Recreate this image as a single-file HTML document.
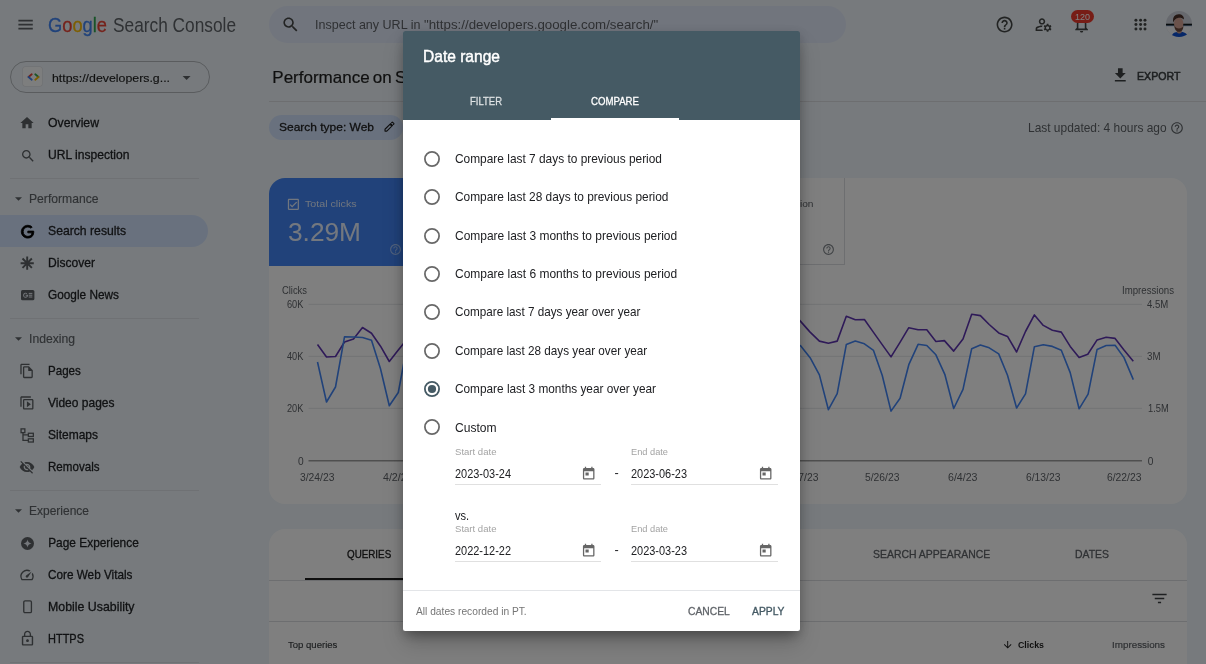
<!DOCTYPE html>
<html lang="en"><head><meta charset="utf-8"><title>Performance - Search Console</title>
<style>
html,body{margin:0;padding:0}
body{width:1206px;height:664px;overflow:hidden;position:relative;background:#eef5fa;font-family:"Liberation Sans", sans-serif;}
#app{position:absolute;left:0;top:0;width:1206px;height:664px;overflow:hidden;background:#eef5fa}
#scrim{position:absolute;left:0;top:0;width:1206px;height:664px;background:rgba(0,0,0,.5)}
#dlg{position:absolute;left:0;top:0;width:1206px;height:664px;overflow:hidden}
.t{position:absolute;white-space:nowrap;line-height:20px;height:20px;margin-top:-10px;display:block;transform-origin:0 50%}
svg{display:block;overflow:visible}
</style></head><body>
<div id="app"><svg style="position:absolute;left:16.20px;top:14.60px;" width="19.20" height="19.20" viewBox="0 0 24 24"><path fill="#5f6368" d="M3 18h18v-2H3v2zm0-5h18v-2H3v2zm0-7v2h18V6H3z"/></svg><span class="t" id="t0" style="left:48.00px;top:25.20px;font-size:20.50px;color:#202124;transform:scaleX(0.8920);-webkit-text-stroke:0.30px #202124;-webkit-text-stroke-color:currentColor;"><span style="color:#4285f4">G</span><span style="color:#ea4335">o</span><span style="color:#fbbc05">o</span><span style="color:#4285f4">g</span><span style="color:#34a853">l</span><span style="color:#ea4335">e</span></span><span class="t" id="t1" style="left:112.50px;top:25.20px;font-size:20.50px;color:#5f6368;transform:scaleX(0.8432);">Search Console</span><div style="position:absolute;left:269px;top:5.5px;width:577px;height:37.5px;border-radius:19px;background:#e3eafa"></div><svg style="position:absolute;left:281.40px;top:15.20px;" width="19.20" height="19.20" viewBox="0 0 24 24"><path fill="#444746" d="M15.5 14h-.79l-.28-.27C15.41 12.59 16 11.11 16 9.5 16 5.91 13.09 3 9.5 3S3 5.91 3 9.5 5.91 16 9.5 16c1.61 0 3.09-.59 4.23-1.57l.27.28v.79l5 4.99L20.49 19l-4.99-5zm-6 0C7.01 14 5 11.99 5 9.5S7.01 5 9.5 5 14 7.01 14 9.5 11.99 14 9.5 14z"/></svg><span class="t" id="t2" style="left:314.50px;top:25.00px;font-size:13.60px;color:#5f6368;transform:scaleX(0.9217);">Inspect any URL in</span><span class="t" id="t3" style="left:423.80px;top:25.00px;font-size:13.60px;color:#5f6368;transform:scaleX(0.9784);">"https://developers.google.com/search/"</span><svg style="position:absolute;left:995.30px;top:14.60px;" width="19.20" height="19.20" viewBox="0 0 24 24"><path fill="#444746" d="M11 18h2v-2h-2v2zm1-16C6.48 2 2 6.48 2 12s4.48 10 10 10 10-4.48 10-10S17.52 2 12 2zm0 18c-4.41 0-8-3.59-8-8s3.59-8 8-8 8 3.59 8 8-3.59 8-8 8zm0-14c-2.21 0-4 1.79-4 4h2c0-1.1.9-2 2-2s2 .9 2 2c0 2-3 1.75-3 5h2c0-2.25 3-2.5 3-5 0-2.21-1.79-4-4-4z"/></svg><svg style="position:absolute;left:1033.60px;top:14.70px;" width="19.20" height="19.20" viewBox="0 0 24 24"><path fill="#444746" d="M4 18v-.650c0-.340.160-.660.410-.810C6.100 15.530 8.030 15 10 15c.030 0 .050 0 .080.010.100-.700.300-1.370.590-1.980-.220-.020-.440-.030-.670-.030-2.420 0-4.680.670-6.610 1.820-.880.520-1.390 1.500-1.390 2.530V20h9.260c-.420-.600-.750-1.280-.970-2H4zM10 12c2.210 0 4-1.790 4-4s-1.790-4-4-4-4 1.790-4 4 1.790 4 4 4zm0-6c1.100 0 2 .900 2 2s-.900 2-2 2-2-.900-2-2 .900-2 2-2zM20.750 16c0-.220-.030-.420-.060-.630l1.140-1.010-1-1.730-1.450.490c-.320-.270-.680-.480-1.080-.630L18 11h-2l-.300 1.490c-.400.150-.760.360-1.080.630l-1.450-.490-1 1.730 1.140 1.010c-.030.210-.060.410-.060.630s.030.420.060.630l-1.140 1.010 1 1.730 1.450-.490c.320.270.680.480 1.080.630L16 21h2l.300-1.490c.400-.150.760-.360 1.080-.630l1.450.490 1-1.730-1.140-1.010c.030-.210.060-.410.060-.630zM17 18c-1.100 0-2-.900-2-2s.900-2 2-2 2 .900 2 2-.900 2-2 2z"/></svg><svg style="position:absolute;left:1072.10px;top:14.70px;" width="19.20" height="19.20" viewBox="0 0 24 24"><path fill="#444746" d="M12 22c1.1 0 2-.9 2-2h-4c0 1.1.9 2 2 2zm6-6v-5c0-3.07-1.63-5.64-4.5-6.32V4c0-.83-.67-1.5-1.5-1.5s-1.5.67-1.5 1.5v.68C7.64 5.36 6 7.92 6 11v5l-2 2v1h16v-1l-2-2zm-2 1H8v-6c0-2.48 1.51-4.5 4-4.5s4 2.02 4 4.5v6z"/></svg><div style="position:absolute;left:1071.1px;top:10.4px;width:22.9px;height:13px;border-radius:6.500px;background:#ee3a2c"></div><span class="t" id="t4" style="left:1075.10px;top:17.10px;font-size:9.20px;color:#fff;transform:scaleX(0.9776);">120</span><svg style="position:absolute;left:1134.30px;top:17.70px;" width="13.20" height="13.20" viewBox="0 0 24 24"><circle cx="3.500" cy="4" r="2.7" fill="#444746"/><circle cx="3.500" cy="12" r="2.7" fill="#444746"/><circle cx="3.500" cy="20" r="2.7" fill="#444746"/><circle cx="12" cy="4" r="2.7" fill="#444746"/><circle cx="12" cy="12" r="2.7" fill="#444746"/><circle cx="12" cy="20" r="2.7" fill="#444746"/><circle cx="20" cy="4" r="2.7" fill="#444746"/><circle cx="20" cy="12" r="2.7" fill="#444746"/><circle cx="20" cy="20" r="2.7" fill="#444746"/></svg><svg style="position:absolute;left:1166.40px;top:11.20px;" width="26.00" height="26.00" viewBox="0 0 26 26"><clipPath id="avc"><circle cx="13" cy="13" r="13"/></clipPath><g clip-path="url(#avc)"><rect width="26" height="26" fill="#cfd3dc"/><rect y="12.700" width="26" height="2" fill="#10181a"/><rect y="14.700" width="26" height=".600" fill="#5d8fd0"/><rect y="15.300" width="26" height="11" fill="#f4f6fb"/><path d="M5.500 26c.500-3.500 3-5 7.500-5.200 4.500-.200 8 1.200 9.500 5.200z" fill="#0d4fd0"/><rect x="10.800" y="16" width="5" height="6.500" rx="2" fill="#c79a8c"/><ellipse cx="12.700" cy="12.600" rx="4.700" ry="6" fill="#d6a596"/><path d="M8.300 14.500c.200 4 2 6.300 4.800 6.300s4.300-2.300 4.300-6c-1 2-2.500 2.600-4.500 2.600s-3.600-.900-4.600-2.900z" fill="#6e4a3d"/><path d="M7.200 11.500C6.300 6 9 3.300 12.600 3.300c3.400 0 5.600 2 5.300 5.200-1.600-1.600-3.800-2-6-1.600-2.300.400-3.500 2-4.700 4.600z" fill="#4a3128"/></g></svg><div style="position:absolute;left:10px;top:61px;width:199.5px;height:31.5px;box-sizing:border-box;border:1px solid #b4b8bd;border-radius:16px"></div><div style="position:absolute;left:23.2px;top:67px;width:19.2px;height:18.6px;border-radius:2px;background:#fbfcfd;box-shadow:0 0 0 .5px #dadce0"></div><svg style="position:absolute;left:26.50px;top:72.50px;" width="13.00" height="8.00" viewBox="0 0 26 16"><g fill="none" stroke-width="3.600" stroke-linecap="round"><path d="M9.500 2.500L3 8" stroke="#ea4335"/><path d="M3 8l6.500 5.500" stroke="#4285f4"/><path d="M16.500 2.500L23 8" stroke="#34a853"/><path d="M23 8l-6.500 5.500" stroke="#fbbc05"/></g></svg><span class="t" id="t5" style="left:52.00px;top:78.00px;font-size:11.80px;color:#1f1f1f;transform:scaleX(1.0461);-webkit-text-stroke:0.15px #1f1f1f;">https://developers.g...</span><svg style="position:absolute;left:176.70px;top:67.70px;" width="19.20" height="19.20" viewBox="0 0 24 24"><path fill="#5c6064" d="M7 10l5 5 5-5z"/></svg><svg style="position:absolute;left:19.30px;top:115.30px;" width="16.00" height="16.00" viewBox="0 0 24 24"><path fill="#5c6064" d="M10 20v-6h4v6h5v-8h3L12 3 2 12h3v8z"/></svg><span class="t" id="t6" style="left:48.20px;top:123.00px;font-size:11.90px;color:#222427;transform:scaleX(1.0290);-webkit-text-stroke:0.28px #222427;">Overview</span><svg style="position:absolute;left:19.60px;top:147.60px;" width="16.00" height="16.00" viewBox="0 0 24 24"><path fill="#5c6064" d="M15.5 14h-.79l-.28-.27C15.41 12.59 16 11.11 16 9.5 16 5.91 13.09 3 9.5 3S3 5.91 3 9.5 5.91 16 9.5 16c1.61 0 3.09-.59 4.23-1.57l.27.28v.79l5 4.99L20.49 19l-4.99-5zm-6 0C7.01 14 5 11.99 5 9.5S7.01 5 9.5 5 14 7.01 14 9.5 11.99 14 9.5 14z"/></svg><span class="t" id="t7" style="left:48.20px;top:155.00px;font-size:11.90px;color:#222427;transform:scaleX(1.0162);-webkit-text-stroke:0.28px #222427;">URL inspection</span><div style="position:absolute;left:10px;top:177.50px;width:189px;height:1px;background:#dfe3e8"></div><svg style="position:absolute;left:14.50px;top:196.50px;" width="7.00" height="4.00" viewBox="0 0 10 5"><path d="M0 0h10L5 5z" fill="#5f6368"/></svg><span class="t" id="t8" style="left:29.20px;top:199.00px;font-size:11.90px;color:#5f6368;transform:scaleX(1.0209);-webkit-text-stroke:0.15px #5f6368;">Performance</span><div style="position:absolute;left:0;top:215.2px;width:207.5px;height:31.6px;border-radius:0 16px 16px 0;background:#d3e3fd"></div><svg style="position:absolute;left:19.50px;top:223.70px;" width="15.40" height="15.40" viewBox="0 0 24 24"><path fill="#000" stroke="#000" stroke-width="1.300" d="M21.35 11.1h-9.170v2.730h6.510c-.330 3.810-3.500 5.440-6.500 5.440C8.360 19.270 5 16.250 5 12c0-4.100 3.200-7.270 7.200-7.270 3.090 0 4.900 1.970 4.900 1.970L19 4.720S16.560 2 12.100 2C6.420 2 2.030 6.800 2.030 12c0 5.050 4.130 10 10.220 10 5.350 0 9.250-3.670 9.250-9.090 0-1.150-.150-1.810-.150-1.810z"/></svg><span class="t" id="t9" style="left:48.20px;top:231.00px;font-size:11.90px;color:#222427;transform:scaleX(1.0261);-webkit-text-stroke:0.28px #222427;">Search results</span><svg style="position:absolute;left:20.10px;top:255.90px;" width="14.40" height="14.40" viewBox="0 0 24 24"><g stroke="#5c6064" stroke-width="3.200" fill="none"><path d="M12 1v22M1 12h22M4.200 4.200l15.600 15.600M19.800 4.200L4.200 19.800"/></g></svg><span class="t" id="t10" style="left:48.20px;top:263.00px;font-size:11.90px;color:#222427;transform:scaleX(1.0159);-webkit-text-stroke:0.28px #222427;">Discover</span><svg style="position:absolute;left:20.60px;top:289.80px;" width="13.40" height="10.40" viewBox="0 0 26 20"><rect width="26" height="20" rx="3" fill="#5c6064"/><g fill="#e9eef6"><rect x="15" y="5.500" width="7" height="2"/><rect x="15" y="9" width="7" height="2"/><rect x="15" y="12.500" width="7" height="2"/><path d="M9 9.200v1.900h2.600c-.300 1.100-1.200 1.800-2.600 1.800a2.900 2.900 0 1 1 1.900-5.100l1.400-1.400A4.900 4.900 0 1 0 9 14.900c2.800 0 4.700-2 4.700-4.800 0-.300 0-.600-.100-.900z"/></g></svg><span class="t" id="t11" style="left:48.20px;top:295.00px;font-size:11.90px;color:#222427;transform:scaleX(0.9945);-webkit-text-stroke:0.28px #222427;">Google News</span><div style="position:absolute;left:10px;top:317.50px;width:189px;height:1px;background:#dfe3e8"></div><svg style="position:absolute;left:14.50px;top:336.50px;" width="7.00" height="4.00" viewBox="0 0 10 5"><path d="M0 0h10L5 5z" fill="#5f6368"/></svg><span class="t" id="t12" style="left:29.20px;top:339.00px;font-size:11.90px;color:#5f6368;transform:scaleX(1.0229);-webkit-text-stroke:0.15px #5f6368;">Indexing</span><svg style="position:absolute;left:19.30px;top:363.40px;" width="15.80" height="15.80" viewBox="0 0 24 24"><path fill="#5c6064" d="M16 1H4c-1.1 0-2 .9-2 2v14h2V3h12V1zm-1 4H8c-1.1 0-1.99.9-1.99 2L6 21c0 1.1.89 2 1.99 2H19c1.1 0 2-.9 2-2V11l-6-6zM8 21V7h6v5h5v9H8z"/></svg><span class="t" id="t13" style="left:48.20px;top:371.00px;font-size:11.90px;color:#222427;transform:scaleX(0.9728);-webkit-text-stroke:0.28px #222427;">Pages</span><svg style="position:absolute;left:19.30px;top:395.40px;" width="15.80" height="15.80" viewBox="0 0 24 24"><path fill="#5c6064" transform="translate(0 24) scale(1 -1)" d="M4 6H2v14c0 1.1.9 2 2 2h14v-2H4V6zm16-4H8c-1.1 0-2 .9-2 2v12c0 1.1.9 2 2 2h12c1.1 0 2-.9 2-2V4c0-1.1-.9-2-2-2zm0 14H8V4h12v12zM12 5.500v9l6-4.500z"/></svg><span class="t" id="t14" style="left:48.20px;top:403.00px;font-size:11.90px;color:#222427;transform:scaleX(1.0090);-webkit-text-stroke:0.28px #222427;">Video pages</span><svg style="position:absolute;left:20.20px;top:427.60px;" width="14.40" height="15.20" viewBox="0 0 24 26"><g fill="none" stroke="#5c6064" stroke-width="2.200"><rect x="1.500" y="1.500" width="6.500" height="6.500"/><rect x="14" y="9" width="8.500" height="5.500"/><rect x="14" y="18.500" width="8.500" height="5.500"/><path d="M4.800 8v13.300h9.200M4.800 11.800h9.200"/></g></svg><span class="t" id="t15" style="left:48.20px;top:435.00px;font-size:11.90px;color:#222427;transform:scaleX(1.0085);-webkit-text-stroke:0.28px #222427;">Sitemaps</span><svg style="position:absolute;left:19.20px;top:459.40px;" width="16.00" height="16.00" viewBox="0 0 24 24"><path fill="#5c6064" d="M12 7c2.760 0 5 2.240 5 5 0 .650-.130 1.260-.360 1.830l2.920 2.920c1.510-1.260 2.700-2.890 3.430-4.750-1.730-4.390-6-7.500-11-7.500-1.400 0-2.740.250-3.980.700l2.160 2.160C10.740 7.130 11.350 7 12 7zM2 4.270l2.280 2.280.460.460C3.080 8.300 1.780 10.020 1 12c1.730 4.390 6 7.500 11 7.500 1.550 0 3.030-.300 4.380-.840l.420.420L19.730 22 21 20.730 3.270 3 2 4.270zM7.530 9.800l1.550 1.550c-.050.210-.080.430-.080.650 0 1.660 1.340 3 3 3 .220 0 .440-.030.650-.080l1.550 1.550c-.670.330-1.410.530-2.200.530-2.760 0-5-2.240-5-5 0-.790.200-1.530.530-2.200zm4.310-.780l3.150 3.150.020-.160c0-1.660-1.340-3-3-3l-.170.010z"/></svg><span class="t" id="t16" style="left:48.20px;top:467.00px;font-size:11.90px;color:#222427;transform:scaleX(0.9740);-webkit-text-stroke:0.28px #222427;">Removals</span><div style="position:absolute;left:10px;top:489.50px;width:189px;height:1px;background:#dfe3e8"></div><svg style="position:absolute;left:14.50px;top:508.50px;" width="7.00" height="4.00" viewBox="0 0 10 5"><path d="M0 0h10L5 5z" fill="#5f6368"/></svg><span class="t" id="t17" style="left:29.20px;top:511.00px;font-size:11.90px;color:#5f6368;transform:scaleX(1.0084);-webkit-text-stroke:0.15px #5f6368;">Experience</span><svg style="position:absolute;left:20.80px;top:536.60px;" width="13.00" height="13.00" viewBox="0 0 24 24"><circle cx="12" cy="12" r="12" fill="#5c6064"/><path d="M12 4.500c.600 4.300 3.200 6.900 7.500 7.500-4.300.600-6.900 3.200-7.500 7.500-.600-4.300-3.200-6.900-7.500-7.500 4.300-.600 6.900-3.200 7.500-7.500z" fill="#e9eef6"/></svg><span class="t" id="t18" style="left:48.20px;top:543.00px;font-size:11.90px;color:#222427;-webkit-text-stroke:0.28px #222427;">Page Experience</span><svg style="position:absolute;left:19.20px;top:567.00px;" width="16.00" height="16.00" viewBox="0 0 24 24"><path fill="#5c6064" d="M20.380 8.570l-1.230 1.850a8 8 0 0 1-.220 7.580H5.070A8 8 0 0 1 15.580 6.850l1.850-1.230A10 10 0 0 0 3.350 19a2 2 0 0 0 1.720 1h13.850a2 2 0 0 0 1.740-1 10 10 0 0 0-.270-10.440zm-9.790 6.840a2 2 0 0 0 2.830 0l5.660-8.490-8.490 5.660a2 2 0 0 0 0 2.830z"/></svg><span class="t" id="t19" style="left:48.20px;top:575.00px;font-size:11.90px;color:#222427;transform:scaleX(0.9885);-webkit-text-stroke:0.28px #222427;">Core Web Vitals</span><svg style="position:absolute;left:22.80px;top:600.20px;" width="9.20" height="13.60" viewBox="0 0 18 26"><rect x="1.500" y="1.500" width="15" height="23" rx="2.500" fill="none" stroke="#5c6064" stroke-width="2.600"/></svg><span class="t" id="t20" style="left:48.20px;top:607.00px;font-size:11.90px;color:#222427;transform:scaleX(1.0388);-webkit-text-stroke:0.28px #222427;">Mobile Usability</span><svg style="position:absolute;left:18.70px;top:630.10px;" width="17.00" height="17.00" viewBox="0 0 24 24"><path fill="#5c6064" d="M12 17c1.100 0 2-.900 2-2s-.900-2-2-2-2 .900-2 2 .900 2 2 2zm6-9h-1V6c0-2.760-2.240-5-5-5S7 3.240 7 6v2H6c-1.100 0-2 .900-2 2v10c0 1.100.900 2 2 2h12c1.100 0 2-.900 2-2V10c0-1.100-.900-2-2-2zM8.900 6c0-1.710 1.390-3.100 3.100-3.100s3.100 1.390 3.100 3.100v2H8.900V6zM18 20H6V10h12v10z"/></svg><span class="t" id="t21" style="left:48.20px;top:639.00px;font-size:11.90px;color:#222427;transform:scaleX(0.9234);-webkit-text-stroke:0.28px #222427;">HTTPS</span><div style="position:absolute;left:10px;top:661.70px;width:189px;height:1px;background:#dfe3e8"></div><span class="t" id="t22" style="left:272.30px;top:78.20px;font-size:17.00px;color:#1f1f1f;-webkit-text-stroke:0.20px #1f1f1f;word-spacing:-1.500px;">Performance on Search results</span><svg style="position:absolute;left:1111.30px;top:65.50px;" width="18.60" height="18.60" viewBox="0 0 24 24"><path fill="#3c4043" d="M19 9h-4V3H9v6H5l7 7 7-7zM5 18v2h14v-2H5z"/></svg><span class="t" id="t23" style="left:1136.60px;top:75.60px;font-size:11.60px;color:#3c4043;transform:scaleX(0.9143);-webkit-text-stroke:0.55px #3c4043;">EXPORT</span><div style="position:absolute;left:269px;top:100.7px;width:937px;height:1px;background:#dadce0"></div><div style="position:absolute;left:269px;top:114.5px;width:133.5px;height:25px;border-radius:12.500px;background:#d3e3fd"></div><span class="t" id="t24" style="left:278.80px;top:127.00px;font-size:11.60px;color:#1f1f1f;transform:scaleX(1.0331);-webkit-text-stroke:0.30px #1f1f1f;">Search type: Web</span><svg style="position:absolute;left:382.80px;top:121.30px;" width="12.00" height="12.00" viewBox="0 0 24 24"><path fill="none" stroke="#1f1f1f" stroke-width="2.200" stroke-linejoin="round" d="M4 20.200v-3.700L15.300 5.200l3.700 3.700L7.700 20.200zM14 6.500l3.700 3.700M16.600 3.900l1.300-1.300c.400-.400 1-.400 1.400 0l2.300 2.300c.400.400.400 1 0 1.400l-1.300 1.300"/></svg><span class="t" id="t25" style="left:1027.80px;top:127.60px;font-size:12.60px;color:#5f6368;transform:scaleX(0.9471);">Last updated: 4 hours ago</span><svg style="position:absolute;left:1169.90px;top:120.60px;" width="14.00" height="14.00" viewBox="0 0 24 24"><path fill="#5f6368" d="M11 18h2v-2h-2v2zm1-16C6.48 2 2 6.48 2 12s4.48 10 10 10 10-4.48 10-10S17.52 2 12 2zm0 18c-4.41 0-8-3.59-8-8s3.59-8 8-8 8 3.59 8 8-3.59 8-8 8zm0-14c-2.21 0-4 1.79-4 4h2c0-1.1.9-2 2-2s2 .9 2 2c0 2-3 1.75-3 5h2c0-2.25 3-2.5 3-5 0-2.21-1.79-4-4-4z"/></svg><div style="position:absolute;left:269px;top:178.3px;width:918px;height:325.400px;border-radius:16px;background:#fff;overflow:hidden"><div style="position:absolute;left:0;top:0;width:144px;height:87.500px;background:#4285f4"></div><div style="position:absolute;left:144px;top:0;width:144px;height:87.500px;background:#5e35b1"></div><div style="position:absolute;left:288px;top:0;width:288px;height:87px;box-sizing:border-box;border-right:1px solid #dadce0;border-bottom:1px solid #dadce0"></div><div style="position:absolute;left:431.500px;top:0;width:1px;height:87px;background:#dadce0"></div></div><svg style="position:absolute;left:286.30px;top:197.10px;" width="14.80" height="14.80" viewBox="0 0 24 24"><path fill="rgba(255,255,255,.85)" d="M19 3H5c-1.1 0-2 .9-2 2v14c0 1.1.9 2 2 2h14c1.1 0 2-.9 2-2V5c0-1.1-.9-2-2-2zm0 16H5V5h14v14zM17.99 9l-1.41-1.42-6.59 6.59-2.58-2.57-1.42 1.41 4 3.99z"/></svg><span class="t" id="t26" style="left:304.60px;top:204.30px;font-size:9.90px;color:rgba(255,255,255,.82);transform:scaleX(1.0806);">Total clicks</span><span class="t" id="t27" style="left:288.00px;top:231.60px;font-size:26.20px;color:rgba(255,255,255,.88);transform:scaleX(1.0028);">3.29M</span><svg style="position:absolute;left:389.30px;top:242.90px;" width="13.00" height="13.00" viewBox="0 0 24 24"><path fill="rgba(255,255,255,.5)" d="M11 18h2v-2h-2v2zm1-16C6.48 2 2 6.48 2 12s4.48 10 10 10 10-4.48 10-10S17.52 2 12 2zm0 18c-4.41 0-8-3.59-8-8s3.59-8 8-8 8 3.59 8 8-3.59 8-8 8zm0-14c-2.21 0-4 1.79-4 4h2c0-1.1.9-2 2-2s2 .9 2 2c0 2-3 1.75-3 5h2c0-2.25 3-2.5 3-5 0-2.21-1.79-4-4-4z"/></svg><span class="t" id="t28" style="left:737.50px;top:204.20px;font-size:9.90px;color:#5f6368;transform:scaleX(1.0287);">Average position</span><svg style="position:absolute;left:821.50px;top:242.80px;" width="13.00" height="13.00" viewBox="0 0 24 24"><path fill="#80868b" d="M11 18h2v-2h-2v2zm1-16C6.48 2 2 6.48 2 12s4.48 10 10 10 10-4.48 10-10S17.52 2 12 2zm0 18c-4.41 0-8-3.59-8-8s3.59-8 8-8 8 3.59 8 8-3.59 8-8 8zm0-14c-2.21 0-4 1.79-4 4h2c0-1.1.9-2 2-2s2 .9 2 2c0 2-3 1.75-3 5h2c0-2.25 3-2.5 3-5 0-2.21-1.79-4-4-4z"/></svg><svg style="position:absolute;left:0;top:0" width="1206" height="664" viewBox="0 0 1206 664"><path d="M308.500 304.3H1142" stroke="#e4e6e8" stroke-width="1"/><path d="M308.500 356.3H1142" stroke="#e4e6e8" stroke-width="1"/><path d="M308.500 408.3H1142" stroke="#e4e6e8" stroke-width="1"/><path d="M308.500 460.800H1142" stroke="#9e9e9e" stroke-width="1.500"/><polyline fill="none" stroke="#5e35b1" stroke-width="1.600" stroke-linejoin="round" points="317.5,344.5 326.5,357.0 335.5,356.5 344.5,342.0 353.5,339.0 362.5,327.5 371.5,333.2 380.5,346.2 389.3,361.5 398.3,350.0 407.2,339.0 416.2,346.4 425.1,357.4 434.1,354.2 443.1,339.9 452.1,337.3 461.0,338.4 470.0,349.9 479.0,346.4 487.9,357.4 496.9,354.2 505.9,339.9 514.8,337.3 523.8,338.4 532.8,349.9 541.8,346.4 550.7,357.4 559.7,354.2 568.7,339.9 577.6,337.3 586.6,338.4 595.6,349.9 604.5,346.4 613.5,357.4 622.5,354.2 631.5,339.9 640.4,337.3 649.4,338.4 658.4,349.9 667.3,346.4 676.3,357.4 685.3,354.2 694.2,339.9 703.2,337.3 712.2,338.4 721.2,349.9 730.1,346.4 739.1,357.4 748.1,354.2 757.0,339.9 766.0,337.3 775.0,338.4 783.9,349.9 792.0,312.0 800.8,321.6 810.1,332.1 819.4,341.1 828.4,343.2 837.2,341.1 846.3,316.3 855.3,319.8 864.4,319.5 873.5,332.4 882.2,344.6 891.0,356.9 900.0,342.3 908.8,327.7 918.1,329.8 926.8,329.8 935.9,341.5 944.4,340.6 953.7,351.1 963.0,339.0 971.7,314.2 980.4,315.6 989.2,324.5 998.7,332.9 1007.5,336.4 1016.6,352.0 1025.5,331.5 1034.4,314.9 1043.3,325.4 1052.4,330.3 1061.3,332.1 1070.2,346.4 1079.1,357.4 1087.8,354.2 1097.1,339.9 1106.2,337.3 1115.1,338.4 1124.0,349.9 1133.3,361.2"/><polyline fill="none" stroke="#4285f4" stroke-width="1.600" stroke-linejoin="round" points="317.5,362.0 326.5,402.0 335.5,387.0 344.5,336.8 353.5,337.0 362.5,337.5 371.5,340.2 380.5,368.8 389.3,405.8 398.3,392.5 407.2,345.0 416.2,372.6 425.1,408.8 434.1,394.2 443.1,349.4 452.1,345.5 461.0,345.3 470.0,357.6 479.0,372.6 487.9,408.8 496.9,394.2 505.9,349.4 514.8,345.5 523.8,345.3 532.8,357.6 541.8,372.6 550.7,408.8 559.7,394.2 568.7,349.4 577.6,345.5 586.6,345.3 595.6,357.6 604.5,372.6 613.5,408.8 622.5,394.2 631.5,349.4 640.4,345.5 649.4,345.3 658.4,357.6 667.3,372.6 676.3,408.8 685.3,394.2 694.2,349.4 703.2,345.5 712.2,345.3 721.2,357.6 730.1,372.6 739.1,408.8 748.1,394.2 757.0,349.4 766.0,345.5 775.0,345.3 783.9,357.6 792.0,341.0 800.8,346.0 810.1,357.7 819.4,374.9 828.4,409.7 837.2,393.6 846.3,344.6 855.3,341.1 864.4,343.8 873.5,350.4 882.2,375.2 891.0,411.1 900.1,398.3 908.8,364.7 918.1,344.3 926.8,345.5 935.9,354.8 944.8,374.3 953.7,408.5 963.0,389.4 971.7,348.7 980.4,345.0 989.2,347.8 998.7,353.9 1007.5,375.2 1016.6,408.0 1025.5,393.8 1034.4,346.7 1043.3,344.8 1052.4,346.4 1061.3,350.2 1070.2,372.6 1079.1,408.8 1088.1,394.2 1097.1,349.4 1106.2,345.5 1115.1,345.3 1124.0,357.6 1133.3,379.6"/></svg><span class="t" id="t29" style="left:282.00px;top:291.30px;font-size:10.20px;color:#5f6368;transform:scaleX(0.9201);">Clicks</span><span class="t" id="t30" style="left:286.80px;top:305.00px;font-size:10.20px;color:#5f6368;transform:scaleX(0.9040);">60K</span><span class="t" id="t31" style="left:286.80px;top:356.90px;font-size:10.20px;color:#5f6368;transform:scaleX(0.9040);">40K</span><span class="t" id="t32" style="left:286.80px;top:408.90px;font-size:10.20px;color:#5f6368;transform:scaleX(0.9040);">20K</span><span class="t" id="t33" style="left:298.00px;top:461.50px;font-size:10.20px;color:#5f6368;">0</span><span class="t" id="t34" style="left:1122.30px;top:291.30px;font-size:10.20px;color:#5f6368;transform:scaleX(0.9468);">Impressions</span><span class="t" id="t35" style="left:1147.20px;top:305.00px;font-size:10.20px;color:#5f6368;transform:scaleX(0.9401);">4.5M</span><span class="t" id="t36" style="left:1147.20px;top:356.90px;font-size:10.20px;color:#5f6368;transform:scaleX(0.9536);">3M</span><span class="t" id="t37" style="left:1147.80px;top:409.00px;font-size:10.20px;color:#5f6368;transform:scaleX(0.9137);">1.5M</span><span class="t" id="t38" style="left:1147.80px;top:461.50px;font-size:10.20px;color:#5f6368;">0</span><span class="t" id="t39" style="left:299.98px;top:478.00px;font-size:10.20px;color:#5f6368;transform:scaleX(1.0129);">3/24/23</span><span class="t" id="t40" style="left:383.14px;top:478.00px;font-size:10.20px;color:#5f6368;transform:scaleX(1.0421);">4/2/23</span><span class="t" id="t41" style="left:461.39px;top:478.00px;font-size:10.20px;color:#5f6368;transform:scaleX(1.0363);">4/11/23</span><span class="t" id="t42" style="left:542.09px;top:478.00px;font-size:10.20px;color:#5f6368;transform:scaleX(1.0129);">4/20/23</span><span class="t" id="t43" style="left:622.79px;top:478.00px;font-size:10.20px;color:#5f6368;transform:scaleX(1.0129);">4/29/23</span><span class="t" id="t44" style="left:705.95px;top:478.00px;font-size:10.20px;color:#5f6368;transform:scaleX(1.0421);">5/8/23</span><span class="t" id="t45" style="left:784.20px;top:478.00px;font-size:10.20px;color:#5f6368;transform:scaleX(1.0129);">5/17/23</span><span class="t" id="t46" style="left:864.90px;top:478.00px;font-size:10.20px;color:#5f6368;transform:scaleX(1.0129);">5/26/23</span><span class="t" id="t47" style="left:948.06px;top:478.00px;font-size:10.20px;color:#5f6368;transform:scaleX(1.0421);">6/4/23</span><span class="t" id="t48" style="left:1026.31px;top:478.00px;font-size:10.20px;color:#5f6368;transform:scaleX(1.0129);">6/13/23</span><span class="t" id="t49" style="left:1107.01px;top:478.00px;font-size:10.20px;color:#5f6368;transform:scaleX(1.0129);">6/22/23</span><div style="position:absolute;left:269px;top:528.8px;width:918px;height:160px;border-radius:16px 16px 0 0;background:#fff"></div><div style="position:absolute;left:269px;top:579.6px;width:918px;height:1px;background:#dadce0"></div><div style="position:absolute;left:269px;top:621.3px;width:918px;height:1px;background:#dadce0"></div><div style="position:absolute;left:304.5px;top:577.6px;width:131px;height:2.800px;background:#1f1f1f"></div><span class="t" id="t50" style="left:347.00px;top:554.40px;font-size:11.40px;color:#1f1f1f;transform:scaleX(0.8619);-webkit-text-stroke:0.35px #1f1f1f;">QUERIES</span><span class="t" id="t51" style="left:508.00px;top:554.40px;font-size:11.40px;color:#5f6368;transform:scaleX(0.8592);-webkit-text-stroke:0.30px #5f6368;">PAGES</span><span class="t" id="t52" style="left:627.00px;top:554.40px;font-size:11.40px;color:#5f6368;transform:scaleX(0.8645);-webkit-text-stroke:0.30px #5f6368;">COUNTRIES</span><span class="t" id="t53" style="left:745.00px;top:554.40px;font-size:11.40px;color:#5f6368;transform:scaleX(0.8397);-webkit-text-stroke:0.30px #5f6368;">DEVICES</span><span class="t" id="t54" style="left:872.50px;top:554.40px;font-size:11.40px;color:#5f6368;transform:scaleX(0.9165);-webkit-text-stroke:0.30px #5f6368;">SEARCH APPEARANCE</span><span class="t" id="t55" style="left:1075.00px;top:554.40px;font-size:11.40px;color:#5f6368;transform:scaleX(0.9154);-webkit-text-stroke:0.30px #5f6368;">DATES</span><svg style="position:absolute;left:1150.10px;top:589.10px;" width="19.00" height="19.00" viewBox="0 0 24 24"><path fill="#3c4043" d="M10 18h4v-2h-4v2zM3 6v2h18V6H3zm3 7h12v-2H6v2z"/></svg><span class="t" id="t56" style="left:288.30px;top:645.00px;font-size:9.70px;color:#3c4043;transform:scaleX(0.9862);-webkit-text-stroke:0.15px #3c4043;">Top queries</span><svg style="position:absolute;left:1001.70px;top:639.30px;" width="11.40" height="11.40" viewBox="0 0 24 24"><path fill="#1f1f1f" d="M20 12l-1.41-1.41L13 16.17V4h-2v12.17l-5.58-5.59L4 12l8 8 8-8z"/></svg><span class="t" id="t57" style="left:1018.30px;top:645.00px;font-size:9.70px;color:#1f1f1f;font-weight:700;transform:scaleX(0.9108);">Clicks</span><span class="t" id="t58" style="left:1111.50px;top:645.00px;font-size:9.70px;color:#5f6368;transform:scaleX(1.0147);-webkit-text-stroke:0.20px #5f6368;">Impressions</span></div>
<div id="scrim"></div>
<div id="dlg"><div style="position:absolute;left:403px;top:30.5px;width:396.5px;height:600.8px;border-radius:2.500px;background:linear-gradient(#455a64 0,#455a64 89px,#fff 89px,#fff 100%);box-shadow:0 9px 12px -5px rgba(0,0,0,.26),0 14px 22px 0 rgba(0,0,0,.15),0 3px 10px 1px rgba(0,0,0,.12)"></div><span class="t" id="t59" style="left:422.60px;top:56.20px;font-size:16.40px;color:#fff;transform:scaleX(0.9493);-webkit-text-stroke:0.45px #fff;">Date range</span><span class="t" id="t60" style="left:470.00px;top:100.80px;font-size:10.80px;color:rgba(255,255,255,.74);transform:scaleX(0.8790);-webkit-text-stroke:0.30px rgba(255,255,255,.74);">FILTER</span><span class="t" id="t61" style="left:590.50px;top:100.80px;font-size:10.80px;color:#fff;transform:scaleX(0.8922);-webkit-text-stroke:0.30px #fff;">COMPARE</span><div style="position:absolute;left:550.5px;top:117.9px;width:128px;height:1.900px;background:#fff"></div><svg style="position:absolute;left:422.00px;top:148.70px;" width="20.00" height="20.00" viewBox="0 0 20 20"><circle cx="10" cy="10" r="7.100" fill="none" stroke="#686868" stroke-width="1.750"/></svg><span class="t" id="t62" style="left:454.60px;top:158.90px;font-size:12.90px;color:#202124;transform:scaleX(0.9229);">Compare last 7 days to previous period</span><svg style="position:absolute;left:422.00px;top:187.10px;" width="20.00" height="20.00" viewBox="0 0 20 20"><circle cx="10" cy="10" r="7.100" fill="none" stroke="#686868" stroke-width="1.750"/></svg><span class="t" id="t63" style="left:454.60px;top:197.30px;font-size:12.90px;color:#202124;transform:scaleX(0.9224);">Compare last 28 days to previous period</span><svg style="position:absolute;left:422.00px;top:225.50px;" width="20.00" height="20.00" viewBox="0 0 20 20"><circle cx="10" cy="10" r="7.100" fill="none" stroke="#686868" stroke-width="1.750"/></svg><span class="t" id="t64" style="left:454.60px;top:235.70px;font-size:12.90px;color:#202124;transform:scaleX(0.9284);">Compare last 3 months to previous period</span><svg style="position:absolute;left:422.00px;top:263.80px;" width="20.00" height="20.00" viewBox="0 0 20 20"><circle cx="10" cy="10" r="7.100" fill="none" stroke="#686868" stroke-width="1.750"/></svg><span class="t" id="t65" style="left:454.60px;top:274.00px;font-size:12.90px;color:#202124;transform:scaleX(0.9284);">Compare last 6 months to previous period</span><svg style="position:absolute;left:422.00px;top:302.20px;" width="20.00" height="20.00" viewBox="0 0 20 20"><circle cx="10" cy="10" r="7.100" fill="none" stroke="#686868" stroke-width="1.750"/></svg><span class="t" id="t66" style="left:454.60px;top:312.40px;font-size:12.90px;color:#202124;transform:scaleX(0.9084);">Compare last 7 days year over year</span><svg style="position:absolute;left:422.00px;top:340.60px;" width="20.00" height="20.00" viewBox="0 0 20 20"><circle cx="10" cy="10" r="7.100" fill="none" stroke="#686868" stroke-width="1.750"/></svg><span class="t" id="t67" style="left:454.60px;top:350.80px;font-size:12.90px;color:#202124;transform:scaleX(0.9093);">Compare last 28 days year over year</span><svg style="position:absolute;left:422.00px;top:379.00px;" width="20.00" height="20.00" viewBox="0 0 20 20"><circle cx="10" cy="10" r="7.100" fill="none" stroke="#455a64" stroke-width="1.800"/><circle cx="10" cy="10" r="4.100" fill="#455a64"/></svg><span class="t" id="t68" style="left:454.60px;top:389.20px;font-size:12.90px;color:#202124;transform:scaleX(0.9168);">Compare last 3 months year over year</span><svg style="position:absolute;left:422.00px;top:417.30px;" width="20.00" height="20.00" viewBox="0 0 20 20"><circle cx="10" cy="10" r="7.100" fill="none" stroke="#686868" stroke-width="1.750"/></svg><span class="t" id="t69" style="left:454.60px;top:427.50px;font-size:12.90px;color:#202124;transform:scaleX(0.9342);">Custom</span><span class="t" id="t70" style="left:454.60px;top:452.00px;font-size:9.70px;color:#a3a3a3;transform:scaleX(0.9877);">Start date</span><span class="t" id="t71" style="left:454.60px;top:473.90px;font-size:12.60px;color:#202124;transform:scaleX(0.8693);">2023-03-24</span><svg style="position:absolute;left:581.10px;top:465.60px;" width="15.40" height="15.40" viewBox="0 0 24 24"><path fill="#666" d="M19 3h-1V1h-2v2H8V1H6v2H5c-1.11 0-1.99.9-1.99 2L3 19c0 1.1.89 2 2 2h14c1.1 0 2-.9 2-2V5c0-1.1-.9-2-2-2zm0 16H5V8h14v11zM7 10h5v5H7z"/></svg><div style="position:absolute;left:454.60px;top:483.60px;width:146.800px;height:1px;background:#e0e0e0"></div><span class="t" id="t72" style="left:631.00px;top:452.00px;font-size:9.70px;color:#a3a3a3;transform:scaleX(0.9537);">End date</span><span class="t" id="t73" style="left:631.00px;top:473.90px;font-size:12.60px;color:#202124;transform:scaleX(0.8693);">2023-06-23</span><svg style="position:absolute;left:757.50px;top:465.60px;" width="15.40" height="15.40" viewBox="0 0 24 24"><path fill="#666" d="M19 3h-1V1h-2v2H8V1H6v2H5c-1.11 0-1.99.9-1.99 2L3 19c0 1.1.89 2 2 2h14c1.1 0 2-.9 2-2V5c0-1.1-.9-2-2-2zm0 16H5V8h14v11zM7 10h5v5H7z"/></svg><div style="position:absolute;left:631.00px;top:483.60px;width:146.800px;height:1px;background:#e0e0e0"></div><span class="t" id="t74" style="left:614.60px;top:473.00px;font-size:12.60px;color:#202124;">-</span><span class="t" id="t75" style="left:454.60px;top:515.60px;font-size:12.90px;color:#202124;transform:scaleX(0.8614);">vs.</span><span class="t" id="t76" style="left:454.60px;top:529.00px;font-size:9.70px;color:#a3a3a3;transform:scaleX(0.9877);">Start date</span><span class="t" id="t77" style="left:454.60px;top:550.90px;font-size:12.60px;color:#202124;transform:scaleX(0.8693);">2022-12-22</span><svg style="position:absolute;left:581.10px;top:542.60px;" width="15.40" height="15.40" viewBox="0 0 24 24"><path fill="#666" d="M19 3h-1V1h-2v2H8V1H6v2H5c-1.11 0-1.99.9-1.99 2L3 19c0 1.1.89 2 2 2h14c1.1 0 2-.9 2-2V5c0-1.1-.9-2-2-2zm0 16H5V8h14v11zM7 10h5v5H7z"/></svg><div style="position:absolute;left:454.60px;top:560.60px;width:146.800px;height:1px;background:#e0e0e0"></div><span class="t" id="t78" style="left:631.00px;top:529.00px;font-size:9.70px;color:#a3a3a3;transform:scaleX(0.9537);">End date</span><span class="t" id="t79" style="left:631.00px;top:550.90px;font-size:12.60px;color:#202124;transform:scaleX(0.8693);">2023-03-23</span><svg style="position:absolute;left:757.50px;top:542.60px;" width="15.40" height="15.40" viewBox="0 0 24 24"><path fill="#666" d="M19 3h-1V1h-2v2H8V1H6v2H5c-1.11 0-1.99.9-1.99 2L3 19c0 1.1.89 2 2 2h14c1.1 0 2-.9 2-2V5c0-1.1-.9-2-2-2zm0 16H5V8h14v11zM7 10h5v5H7z"/></svg><div style="position:absolute;left:631.00px;top:560.60px;width:146.800px;height:1px;background:#e0e0e0"></div><span class="t" id="t80" style="left:614.60px;top:550.00px;font-size:12.60px;color:#202124;">-</span><div style="position:absolute;left:403px;top:589.6px;width:396.5px;height:1px;background:#e3e5e8"></div><span class="t" id="t81" style="left:416.30px;top:611.20px;font-size:10.70px;color:#757575;transform:scaleX(0.9556);">All dates recorded in PT.</span><span class="t" id="t82" style="left:687.60px;top:611.30px;font-size:10.90px;color:#5f6368;transform:scaleX(0.9460);-webkit-text-stroke:0.30px #5f6368;">CANCEL</span><span class="t" id="t83" style="left:752.00px;top:611.30px;font-size:10.90px;color:#455a64;transform:scaleX(0.9472);-webkit-text-stroke:0.35px #455a64;">APPLY</span></div>
</body></html>
